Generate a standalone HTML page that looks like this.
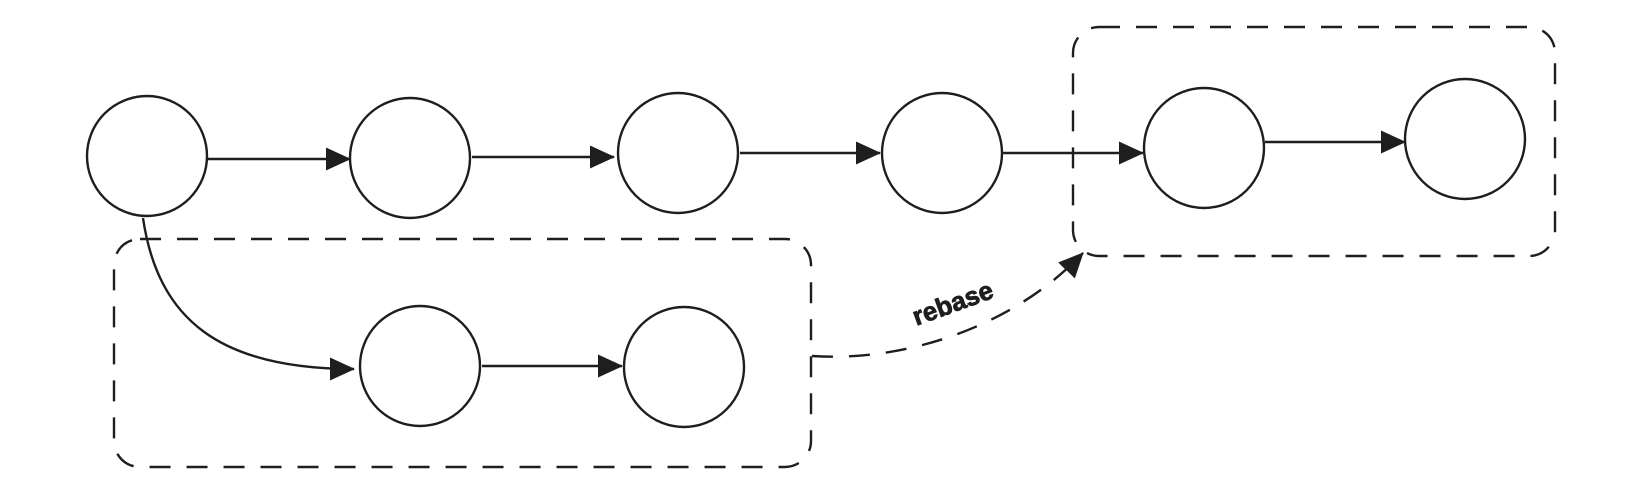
<!DOCTYPE html>
<html><head><style>html,body{margin:0;background:#fff}</style></head><body>
<svg width="1650" height="490" viewBox="0 0 1650 490" xmlns="http://www.w3.org/2000/svg">
<defs>
<marker id="a" markerWidth="25" markerHeight="23" refX="24" refY="11.5" orient="auto" markerUnits="userSpaceOnUse">
<path d="M0,0 L25,11.5 L0,23 Z" fill="#1e1e1e"/>
</marker>
</defs>
<g fill="none" stroke="#1e1e1e" stroke-width="2.4">
<rect x="114" y="239" width="697" height="228" rx="26" stroke-dasharray="21 16"/>
<rect x="1073" y="27" width="482" height="229" rx="26" stroke-dasharray="21 16"/>
<circle cx="147" cy="156" r="60"/>
<circle cx="410" cy="158" r="60"/>
<circle cx="678" cy="153" r="60"/>
<circle cx="942" cy="153" r="60"/>
<circle cx="1204" cy="148" r="60"/>
<circle cx="1465" cy="139" r="60"/>
<circle cx="420" cy="366" r="60"/>
<circle cx="684" cy="367" r="60"/>
<line x1="208" y1="159" x2="350" y2="159" marker-end="url(#a)"/>
<line x1="472" y1="157" x2="614" y2="157" marker-end="url(#a)"/>
<line x1="740" y1="153" x2="880" y2="153" marker-end="url(#a)"/>
<line x1="1003" y1="153" x2="1143" y2="153" marker-end="url(#a)"/>
<line x1="1265" y1="142" x2="1405" y2="142" marker-end="url(#a)"/>
<line x1="482" y1="366" x2="622" y2="366" marker-end="url(#a)"/>
<path d="M143 218 C158 320 220 369 354 369" marker-end="url(#a)"/>
<path d="M812 356 C900 362 1010 330 1083 253" stroke-dasharray="21 16" marker-end="url(#a)"/>
</g>
<text x="953" y="312" transform="rotate(-20 953 304)" text-anchor="middle" font-family="Liberation Sans, sans-serif" font-weight="bold" font-size="26" fill="#1e1e1e" stroke="#1e1e1e" stroke-width="0.8">rebase</text>
</svg>
</body></html>
